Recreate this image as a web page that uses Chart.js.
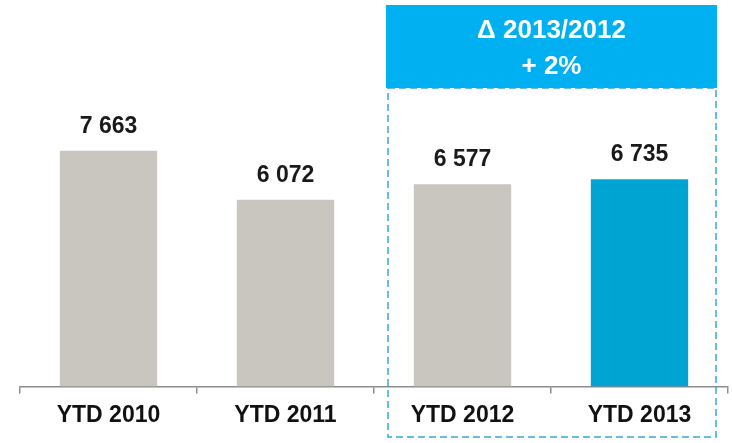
<!DOCTYPE html>
<html>
<head>
<meta charset="utf-8">
<script src="https://cdn.jsdelivr.net/npm/chart.js@4"></script>
<style>
  html, body { margin: 0; padding: 0; background: #fff; }
  #wrap { width: 732px; height: 443px; position: relative; }
</style>
</head>
<body>
<div id="wrap"><canvas id="grafica"></canvas></div>
<script>
// datos del grafico
const categorias = ["YTD 2010", "YTD 2011", "YTD 2012", "YTD 2013"];
const valores = [7663, 6072, 6577, 6735];
const colores = ["#c9c5bf", "#c9c5bf", "#c9c5bf", "#00a4d3"];
const tituloCaja = ["\u0394 2013/2012", "+ 2%"];

const fuente = "'Liberation Sans', Arial, sans-serif";

// formatea 7663 -> "7 663"
function formatoNumero(n) {
  return String(n).replace(/\B(?=(\d{3})+(?!\d))/g, " ");
}

// etiquetas de valor encima de las barras
const etiquetasValor = {
  id: "etiquetasValor",
  afterDatasetsDraw(chart) {
    const ctx = chart.ctx;
    const meta = chart.getDatasetMeta(0);
    ctx.save();
    ctx.fillStyle = "#1a1a1a";
    ctx.font = "bold 23px " + fuente;
    ctx.textAlign = "center";
    ctx.textBaseline = "alphabetic";
    meta.data.forEach((bar, i) => {
      ctx.fillText(formatoNumero(valores[i]), bar.x, bar.y - 18);
    });
    ctx.restore();
  },
};

// caja azul y recuadro punteado sobre 2012-2013
const cajaComparacion = {
  id: "cajaComparacion",
  afterDraw(chart) {
    const ctx = chart.ctx;
    const x = chart.scales.x;
    const ancho = x.getPixelForValue(1) - x.getPixelForValue(0);
    const izq = x.getPixelForValue(2) - ancho / 2 + 12;
    const der = x.getPixelForValue(3) + ancho / 2 - 11;
    const arriba = 5;
    const cajaAbajo = 88;
    const abajo = 437;

    ctx.save();
    // recuadro punteado
    ctx.strokeStyle = "#35a9d6";
    ctx.lineWidth = 1.5;
    ctx.setLineDash([7, 4]);
    ctx.strokeRect(izq + 2, cajaAbajo, der - izq - 3, abajo - cajaAbajo);
    ctx.setLineDash([]);

    // caja azul
    ctx.fillStyle = "#00b0f0";
    ctx.fillRect(izq, arriba, der - izq, cajaAbajo - arriba);

    ctx.fillStyle = "#ffffff";
    ctx.textAlign = "center";
    ctx.textBaseline = "middle";
    const centro = (izq + der) / 2;
    ctx.font = "bold 26px " + fuente;
    ctx.fillText(tituloCaja[0], centro, 31);
    ctx.fillText(tituloCaja[1], centro, 67);
    ctx.restore();
  },
};

const ctx = document.getElementById("grafica");
const myChart = new Chart(ctx, {
  type: "bar",
  data: {
    labels: categorias,
    datasets: [
      {
        data: valores,
        backgroundColor: colores,
        borderWidth: 0,
        barPercentage: 0.55,
        categoryPercentage: 1,
      },
    ],
  },
  options: {
    responsive: true,
    maintainAspectRatio: false,
    animation: false,
    layout: {
      padding: { top: 79, left: 20, right: 4, bottom: 6 },
    },
    plugins: {
      legend: { display: false },
      tooltip: { enabled: false },
    },
    scales: {
      y: {
        display: false,
        min: 0,
        max: 10000,
      },
      x: {
        offset: true,
        grid: {
          offset: true,
          drawOnChartArea: false,
          drawTicks: true,
          tickLength: 7,
          color: "#8c8c8c",
          lineWidth: 1.5,
        },
        border: { display: true, color: "#8c8c8c", width: 1.5 },
        ticks: {
          color: "#111111",
          padding: 8,
          font: { family: fuente, size: 23, weight: "bold" },
        },
      },
    },
  },
  plugins: [etiquetasValor, cajaComparacion],
});
</script>
</body>
</html>
